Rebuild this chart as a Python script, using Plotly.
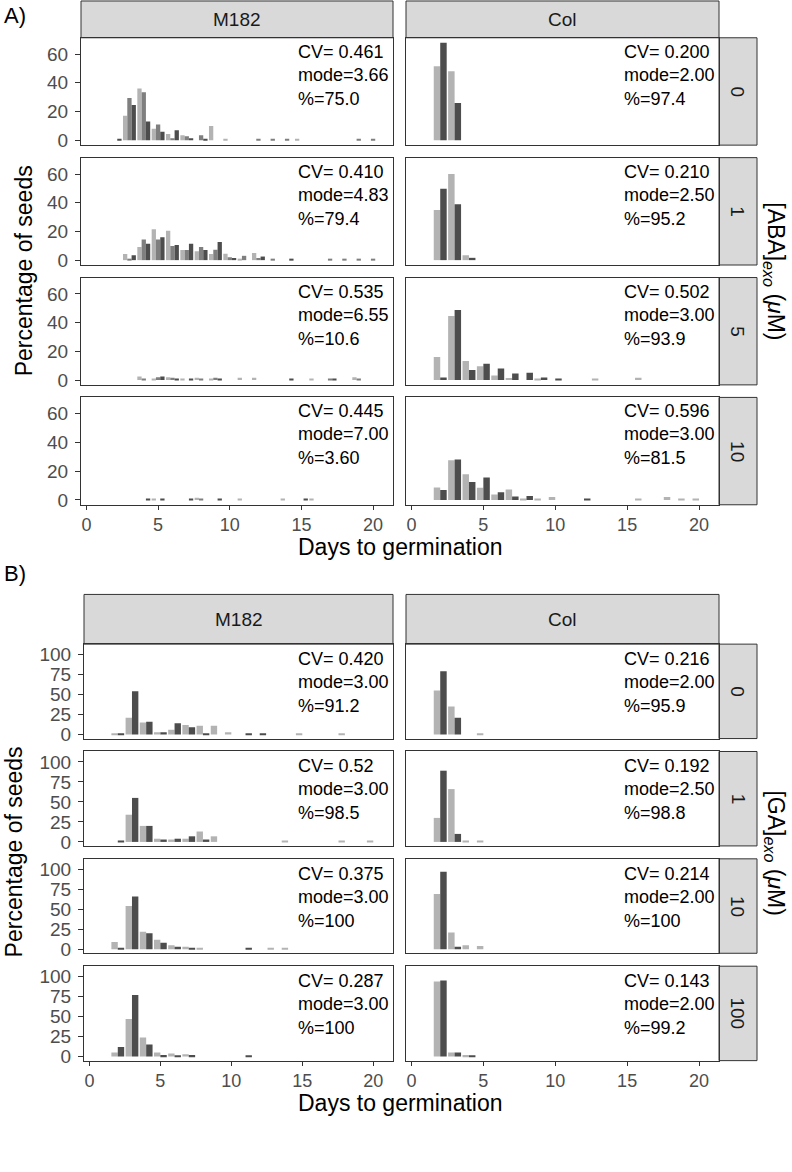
import plotly.graph_objects as go

# days on the x axis
days = list(range(1, 21))

# ---- A) [ABA]exo : M182 has three replicates, Col two ----
# values are percentage of seeds germinated on each day (days 1..20)
aba0_m182_r1 = [0, 0, 17, 36, 8, 4.3, 3.4, 0, 10, 0.5, 0, 0, 0, 0, 0.5, 0, 0, 0, 0, 0]
aba0_m182_r2 = [0, 0, 29.5, 33.5, 11, 1.4, 2.7, 3.4, 0, 0, 0, 0.5, 0.5, 0.5, 0, 0, 0, 0, 0.5, 0.5]
aba0_m182_r3 = [0, 0.5, 24.5, 13, 6, 7, 1.4, 0.5, 0, 0, 0, 0, 0, 0, 0, 0, 0, 0, 0, 0]
aba1_m182_r1 = [0, 0, 4.3, 9.2, 21.5, 20.4, 7.1, 6.2, 4.3, 4.5, 1, 5, 0, 0, 0, 0, 0, 0, 0, 0]
aba1_m182_r2 = [0, 0, 0.5, 14.4, 14.4, 9.8, 7.1, 9.2, 7.3, 2, 3, 1.5, 1, 0, 0, 0, 0.5, 0.5, 0.5, 0.5]
aba1_m182_r3 = [0, 0, 3.4, 11.4, 16, 10.5, 11.4, 7.1, 12.6, 1.5, 0, 2.5, 0, 0.5, 0, 0, 0, 0, 0, 0]
aba5_m182_r1 = [0, 0, 0, 2.5, 1, 2, 1, 1.5, 1, 0, 1.5, 1.5, 0, 0, 0, 1, 0, 0, 2, 0]
aba5_m182_r2 = [0, 0, 0, 1, 2, 1.5, 0, 1, 1.5, 0, 0, 0, 0, 0, 0, 0, 0.5, 0, 1, 0]
aba5_m182_r3 = [0, 0, 0, 0, 2.5, 0.5, 1, 0, 0.5, 0, 0, 0, 0, 0.5, 0, 0, 0.5, 0, 0, 0]
aba10_m182_r1 = [0, 0, 0, 0, 0.5, 0, 0, 1.5, 0, 0, 0.5, 0, 0, 0.5, 0, 0.5, 0, 0, 0, 0]
aba10_m182_r2 = [0, 0, 0, 0, 0, 0, 0, 0.5, 0, 0, 0, 0, 0, 0, 0, 0, 0, 0, 0, 0]
aba10_m182_r3 = [0, 0, 0, 0.5, 1, 0, 0.5, 0, 0.5, 0, 0, 0, 0, 0, 0.5, 0, 0, 0, 0, 0]

aba0_col_r1 = [0, 51.5, 48, 0, 0, 0, 0, 0, 0, 0, 0, 0, 0, 0, 0, 0, 0, 0, 0, 0]
aba0_col_r2 = [0, 68, 26, 0, 0, 0, 0, 0, 0, 0, 0, 0, 0, 0, 0, 0, 0, 0, 0, 0]
aba1_col_r1 = [0, 35, 60, 3.4, 0, 0, 0, 0, 0, 0, 0, 0, 0, 0, 0, 0, 0, 0, 0, 0]
aba1_col_r2 = [0, 49.7, 39, 1.6, 0, 0, 0, 0, 0, 0, 0, 0, 0, 0, 0, 0, 0, 0, 0, 0]
aba5_col_r1 = [0, 16, 44.6, 13.3, 9.6, 3.2, 1.4, 0, 0.7, 0, 0, 0, 0.7, 0, 0, 1.6, 0, 0, 0, 0]
aba5_col_r2 = [0, 1.8, 48.7, 6.9, 11.4, 8, 4.6, 5, 1.8, 0.9, 0, 0, 0, 0, 0, 0, 0, 0, 0, 0]
aba10_col_r1 = [0, 8.7, 27.7, 17.8, 8.5, 3.7, 7.3, 0.5, 0.5, 2, 0, 0, 0, 0, 0, 0.5, 0, 2, 0.5, 0.8]
aba10_col_r2 = [0, 6.9, 28.1, 12.4, 15.6, 5.3, 2.3, 2.7, 0, 0, 0, 0.5, 0, 0, 0, 0, 0, 0, 0, 0]

aba_levels = ["0", "1", "5", "10"]
aba_m182_cv = ["0.461", "0.410", "0.535", "0.445"]
aba_m182_mode = ["3.66", "4.83", "6.55", "7.00"]
aba_m182_pct = ["75.0", "79.4", "10.6", "3.60"]
aba_col_cv = ["0.200", "0.210", "0.502", "0.596"]
aba_col_mode = ["2.00", "2.50", "3.00", "3.00"]
aba_col_pct = ["97.4", "95.2", "93.9", "81.5"]

# ---- B) [GA]exo : two replicates each ----
ga0_m182_r1 = [0, 1, 21, 15, 3, 6, 12, 11, 11, 3, 0, 0, 0, 0, 1, 0, 0, 1, 0, 0]
ga0_m182_r2 = [0, 1, 54, 16, 3, 14, 9, 1, 0, 0, 1, 1, 0, 0, 0, 0, 0, 0, 0, 0]
ga1_m182_r1 = [0, 0, 34, 20, 4, 3, 4, 13, 7, 0, 0, 0, 0, 1, 0, 0, 0, 1, 0, 1]
ga1_m182_r2 = [0, 1, 55, 20, 3, 4, 7, 3, 0, 0, 0, 0, 0, 0, 0, 0, 0, 0, 0, 0]
ga10_m182_r1 = [0, 9, 54, 22, 12, 5, 3, 2, 0, 0, 0, 0, 1, 1, 0, 0, 0, 0, 0, 0]
ga10_m182_r2 = [0, 2, 66, 20, 8, 3, 2, 0, 0, 0, 1, 0, 0, 0, 0, 0, 0, 0, 0, 0]
ga100_m182_r1 = [0, 5, 47, 24, 5, 4, 3, 0, 0, 0, 0, 0, 0, 0, 0, 0, 0, 0, 0, 0]
ga100_m182_r2 = [0, 12, 77, 15, 2, 1, 2, 0, 0, 0, 1, 0, 0, 0, 0, 0, 0, 0, 0, 0]

ga0_col_r1 = [0, 55, 35, 0, 1, 0, 0, 0, 0, 0, 0, 0, 0, 0, 0, 0, 0, 0, 0, 0]
ga0_col_r2 = [0, 79, 21, 0, 0, 0, 0, 0, 0, 0, 0, 0, 0, 0, 0, 0, 0, 0, 0, 0]
ga1_col_r1 = [0, 30, 66, 1, 1, 0, 0, 0, 0, 0, 0, 0, 0, 0, 0, 0, 0, 0, 0, 0]
ga1_col_r2 = [0, 89, 10, 0, 0, 0, 0, 0, 0, 0, 0, 0, 0, 0, 0, 0, 0, 0, 0, 0]
ga10_col_r1 = [0, 69, 21, 5, 4, 0, 0, 0, 0, 0, 0, 0, 0, 0, 0, 0, 0, 0, 0, 0]
ga10_col_r2 = [0, 97, 3, 0, 0, 0, 0, 0, 0, 0, 0, 0, 0, 0, 0, 0, 0, 0, 0, 0]
ga100_col_r1 = [0, 94, 5, 2, 0, 0, 0, 0, 0, 0, 0, 0, 0, 0, 0, 0, 0, 0, 0, 0]
ga100_col_r2 = [0, 95, 5, 1, 0, 0, 0, 0, 0, 0, 0, 0, 0, 0, 0, 0, 0, 0, 0, 0]

ga_levels = ["0", "1", "10", "100"]
ga_m182_cv = ["0.420", "0.52", "0.375", "0.287"]
ga_m182_mode = ["3.00", "3.00", "3.00", "3.00"]
ga_m182_pct = ["91.2", "98.5", "100", "100"]
ga_col_cv = ["0.216", "0.192", "0.214", "0.143"]
ga_col_mode = ["2.00", "2.50", "2.00", "2.00"]
ga_col_pct = ["95.9", "98.8", "100", "99.2"]

genotypes = ["M182", "Col"]

# ---------------------------------------------------------------
W, H = 792, 1172
FONT = "Liberation Sans, Arial, sans-serif"
GREYS3 = ["#B3B3B3", "#7F7F7F", "#4D4D4D"]
GREYS2 = ["#B3B3B3", "#4D4D4D"]
BORDER = "#333333"
STRIP = "#D9D9D9"


def fx(x):
    return x / W


def fy(y):
    return 1 - y / H


def label(text, x, y, size, **kw):
    d = dict(text=text, xref="paper", yref="paper", x=fx(x), y=fy(y), showarrow=False,
             xanchor="center", yanchor="middle", font=dict(size=size, color="black"))
    d.update(kw)
    return d


sections = [
    dict(tag="A)", tag_y=16, strip=(1, 38), tops=[38, 158.6, 279.2, 399.8], h=108,
         cols=[(81, 393), (406, 719)], yrange=[-3.4, 71.4], yticks=[0, 20, 40, 60],
         levels=aba_levels, ytitle_x=24, xtitle_y=550, text_dy=2,
         rtitle="[ABA]<sub><i>exo</i></sub> (<i>μ</i>M)",
         data=[[[aba0_m182_r1, aba0_m182_r2, aba0_m182_r3], [aba0_col_r1, aba0_col_r2]],
               [[aba1_m182_r1, aba1_m182_r2, aba1_m182_r3], [aba1_col_r1, aba1_col_r2]],
               [[aba5_m182_r1, aba5_m182_r2, aba5_m182_r3], [aba5_col_r1, aba5_col_r2]],
               [[aba10_m182_r1, aba10_m182_r2, aba10_m182_r3], [aba10_col_r1, aba10_col_r2]]],
         stats=[(aba_m182_cv, aba_m182_mode, aba_m182_pct), (aba_col_cv, aba_col_mode, aba_col_pct)]),
    dict(tag="B)", tag_y=577, strip=(598, 648), tops=[648, 756, 864, 972], h=95,
         cols=[(84, 393), (406, 719)], yrange=[-5, 113], yticks=[0, 25, 50, 75, 100],
         levels=ga_levels, ytitle_x=14, xtitle_y=1110, text_dy=3,
         rtitle="[GA]<sub><i>exo</i></sub> (<i>μ</i>M)",
         data=[[[ga0_m182_r1, ga0_m182_r2], [ga0_col_r1, ga0_col_r2]],
               [[ga1_m182_r1, ga1_m182_r2], [ga1_col_r1, ga1_col_r2]],
               [[ga10_m182_r1, ga10_m182_r2], [ga10_col_r1, ga10_col_r2]],
               [[ga100_m182_r1, ga100_m182_r2], [ga100_col_r1, ga100_col_r2]]],
         stats=[(ga_m182_cv, ga_m182_mode, ga_m182_pct), (ga_col_cv, ga_col_mode, ga_col_pct)]),
]

fig = go.Figure()
layout = {}
shapes = []
annotations = []
n = 0

for sec in sections:
    strip_top, strip_bot = sec["strip"]
    # column strips
    for c, (x0, x1) in enumerate(sec["cols"]):
        shapes.append(dict(type="rect", xref="paper", yref="paper", x0=fx(x0), x1=fx(x1),
                           y0=fy(strip_bot), y1=fy(strip_top), fillcolor=STRIP,
                           line=dict(color=BORDER, width=1), layer="below"))
        annotations.append(label(genotypes[c], (x0 + x1) / 2, (strip_top + strip_bot) / 2, 19,
                                 font=dict(size=19, color="#1A1A1A")))
    right = sec["cols"][1][1]
    for r, top in enumerate(sec["tops"]):
        bot = top + sec["h"]
        # row strip on the right
        shapes.append(dict(type="rect", xref="paper", yref="paper", x0=fx(right), x1=fx(757),
                           y0=fy(bot), y1=fy(top), fillcolor=STRIP,
                           line=dict(color=BORDER, width=1), layer="below"))
        annotations.append(label(sec["levels"][r], (right + 757) / 2, (top + bot) / 2, 19,
                                 textangle=90, font=dict(size=19, color="#1A1A1A")))
        for c, (x0, x1) in enumerate(sec["cols"]):
            n += 1
            reps = sec["data"][r][c]
            k = len(reps)
            greys = GREYS3 if k == 3 else GREYS2
            wd = 0.9 / k
            for i, vals in enumerate(reps):
                fig.add_trace(go.Bar(x=days, y=vals, width=wd, offset=-0.45 + i * wd,
                                     marker=dict(color=greys[i], line=dict(width=0)),
                                     xaxis=f"x{n}", yaxis=f"y{n}", showlegend=False,
                                     hoverinfo="skip"))
            bottom_row = r == len(sec["tops"]) - 1
            layout[f"xaxis{n}"] = dict(
                domain=[fx(x0), fx(x1)], anchor=f"y{n}", range=[-0.38, 21.39],
                showgrid=False, zeroline=False, showline=True, mirror=True,
                linecolor=BORDER, linewidth=1,
                tickvals=[0, 5, 10, 15, 20] if bottom_row else [],
                ticks="outside" if bottom_row else "", ticklen=4, tickcolor=BORDER,
                ticklabelstandoff=0,
                showticklabels=bottom_row, tickfont=dict(size=18, color="#4D4D4D"))
            layout[f"yaxis{n}"] = dict(
                domain=[fy(bot), fy(top)], anchor=f"x{n}", range=sec["yrange"],
                showgrid=False, zeroline=False, showline=True, mirror=True,
                linecolor=BORDER, linewidth=1,
                tickvals=sec["yticks"] if c == 0 else [],
                ticks="outside" if c == 0 else "", ticklen=5, tickcolor=BORDER,
                ticklabelstandoff=3,
                showticklabels=c == 0, tickfont=dict(size=19, color="#4D4D4D"))
            cv, mode, pct = sec["stats"][c]
            tx = 296 if c == 0 else 622
            annotations.append(label(f"CV= {cv[r]}<br>mode={mode[r]}<br>%={pct[r]}",
                                     tx, top + sec["text_dy"], 18,
                                     xanchor="left", yanchor="top", align="left"))
    first, last = sec["tops"][0], sec["tops"][-1] + sec["h"]
    annotations.append(label("Percentage of seeds", sec["ytitle_x"], (first + last) / 2, 23,
                             textangle=-90))
    annotations.append(label("Days to germination", 400, sec["xtitle_y"], 23))
    annotations.append(label(sec["rtitle"], 775, (first + last) / 2, 23, textangle=90))
    annotations.append(label(sec["tag"], 2, sec["tag_y"], 22, xanchor="left"))

fig.update_layout(
    width=W, height=H, margin=dict(l=0, r=0, t=0, b=0),
    paper_bgcolor="white", plot_bgcolor="white",
    font=dict(family=FONT, color="black"),
    barmode="overlay", hovermode=False, shapes=shapes, annotations=annotations, **layout)

fig.write_html("out.html", config={"displayModeBar": False},
               post_script="document.body.style.margin='0';")
